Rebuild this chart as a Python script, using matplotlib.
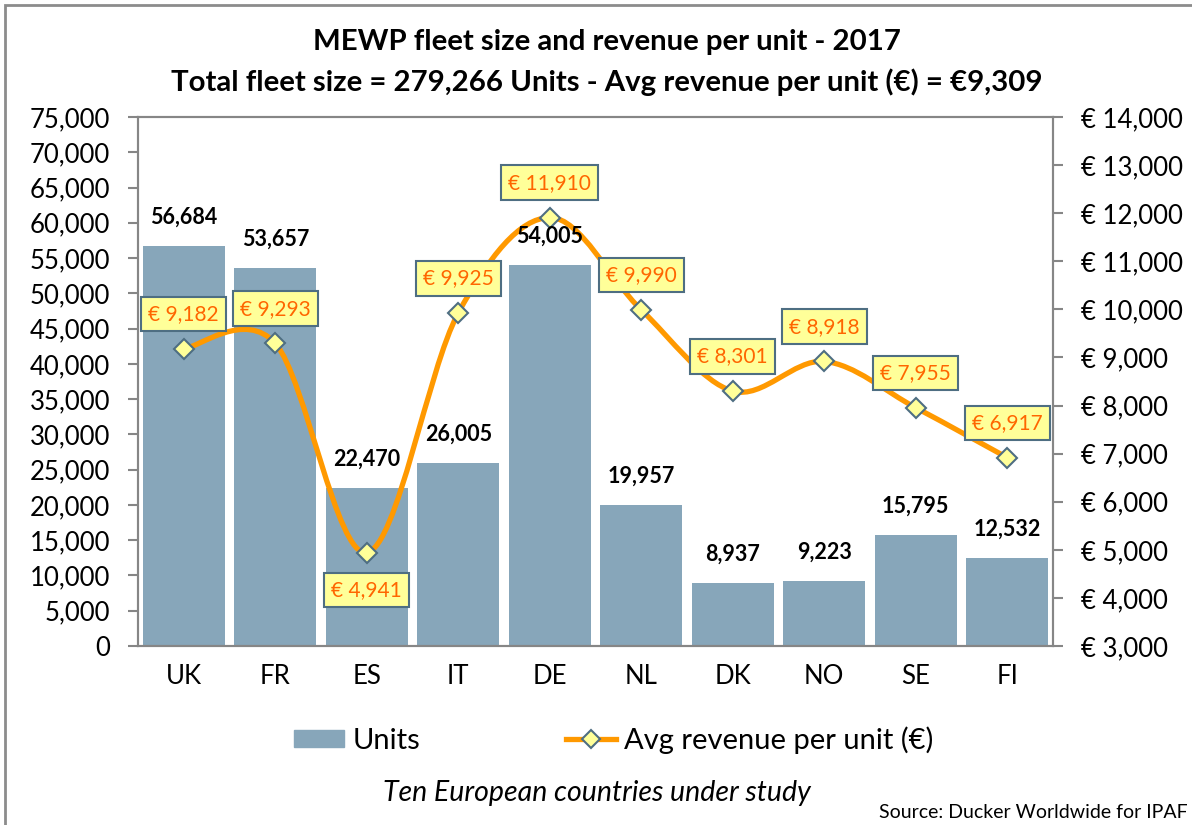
#Python libraries for math and graphics
import numpy as np
import matplotlib.pyplot as plt
from matplotlib.path import Path
from matplotlib.patches import PathPatch, Rectangle
from matplotlib.lines import Line2D
from matplotlib.ticker import FuncFormatter

plt.rcParams['font.family'] = ['Lato', 'DejaVu Sans']

# Chart data
countries = ['UK', 'FR', 'ES', 'IT', 'DE', 'NL', 'DK', 'NO', 'SE', 'FI']
units = [56684, 53657, 22470, 26005, 54005, 19957, 8937, 9223, 15795, 12532]
revenue = [9182, 9293, 4941, 9925, 11910, 9990, 8301, 8918, 7955, 6917]
# label under the point instead of above
below = ['ES']

bar_col = '#87A6BA'
line_col = '#FF9900'
box_fill = '#FFFF99'
box_edge = '#4E6E82'
txt_col = '#FF6600'
spine_col = '#868686'

# Smooth line through points (bezier, like excel smoothing)
def smooth_path(x, y):
  P = np.column_stack([x, y]).astype(float)
  n = len(P)
  verts = [P[0]]
  codes = [Path.MOVETO]
  for i in range(n-1):
    p0 = P[max(i-1, 0)]
    p1 = P[i]
    p2 = P[i+1]
    p3 = P[min(i+2, n-1)]
    c1 = p1 + (p2 - p0)/6
    c2 = p2 - (p3 - p1)/6
    verts += [c1, c2, p2]
    codes += [Path.CURVE4]*3
  return Path(verts, codes)

fig = plt.figure(figsize=(11.92, 8.25), dpi=100)
ax = fig.add_axes([138/1192, 1-646/825, (1053-138)/1192, (646-117)/825])
ax2 = ax.twinx()

x = np.arange(len(countries))
ax.bar(x, units, width=0.9, color=bar_col, zorder=2)
ax.set_xlim(-0.5, len(countries)-0.5)
ax.set_ylim(0, 75000)
ax.set_yticks(np.arange(0, 75001, 5000))
ax.yaxis.set_major_formatter(FuncFormatter(lambda v, p: f'{v:,.0f}'))
ax.set_xticks(x)
ax.set_xticklabels(countries)

ax2.set_ylim(3000, 14000)
ax2.set_yticks(np.arange(3000, 14001, 1000))
ax2.yaxis.set_major_formatter(FuncFormatter(lambda v, p: f'€ {v:,.0f}'))

for a in (ax, ax2):
  for s in a.spines.values():
    s.set_color(spine_col)
    s.set_linewidth(1.5)
ax.tick_params(axis='y', length=7, width=1.5, color=spine_col, pad=13, labelsize=18.5)
ax.tick_params(axis='x', length=0, pad=13, labelsize=18.5)
ax2.tick_params(axis='y', length=7, width=1.5, color=spine_col, pad=13, labelsize=18.5)

# Revenue line
ax2.add_patch(PathPatch(smooth_path(x, revenue), fill=False, edgecolor=line_col,
                        linewidth=3.8, capstyle='round', zorder=3))
ax2.plot(x, revenue, linestyle='none', marker='D', markersize=10,
         markerfacecolor=box_fill, markeredgecolor=box_edge, markeredgewidth=1.5, zorder=4)

# Revenue labels
for i, c in enumerate(countries):
  dy = -27 if c in below else 25
  ax2.annotate(f'€ {revenue[i]:,}', (x[i], revenue[i]), textcoords='offset points',
               xytext=(0, dy), ha='center', va='center', fontsize=15, color=txt_col, zorder=6,
               bbox=dict(boxstyle='square,pad=0.35', fc=box_fill, ec=box_edge, lw=1.5))

# Units labels (on top of the line)
for i in range(len(countries)):
  ax2.annotate(f'{units[i]:,}', (x[i], units[i]), xycoords=ax.transData,
               textcoords='offset points', xytext=(0, 13), ha='center', va='bottom',
               fontsize=15.5, fontweight='bold', color='black', zorder=5)

# Title
fig.text(607/1192, 1-42/825, 'MEWP fleet size and revenue per unit - 2017',
         ha='center', va='center', fontsize=21.2, fontweight='bold')
fig.text(607/1192, 1-82/825, 'Total fleet size = 279,266 Units - Avg revenue per unit (€) = €9,309',
         ha='center', va='center', fontsize=21.2, fontweight='bold')

# Legend
h1 = Rectangle((0, 0), 1, 1, color=bar_col)
h2 = Line2D([], [], color=line_col, linewidth=3.8, marker='D', markersize=9,
            markerfacecolor=box_fill, markeredgecolor=box_edge, markeredgewidth=1.5)
fig.legend([h1, h2], ['Units', 'Avg revenue per unit (€)'], loc='center',
           bbox_to_anchor=(614/1192, 1-740/825), ncol=2, frameon=False, fontsize=21,
           handlelength=1.7, handleheight=0.5, columnspacing=5.0, handletextpad=0.3)

# Other stuff on plot
fig.text(597/1192, 1-793/825, 'Ten European countries under study', ha='center', va='center',
         fontsize=20.5, style='italic')
fig.text(1188/1192, 1-813/825, 'Source: Ducker Worldwide for IPAF', ha='right', va='center',
         fontsize=14)
fig.patches.append(Rectangle((5/1192, -0.1), 1.2, 1-5/825+0.1, transform=fig.transFigure,
                             fill=False, ec='#8C8C8C', lw=2))

plt.savefig('out.png', dpi=100)
